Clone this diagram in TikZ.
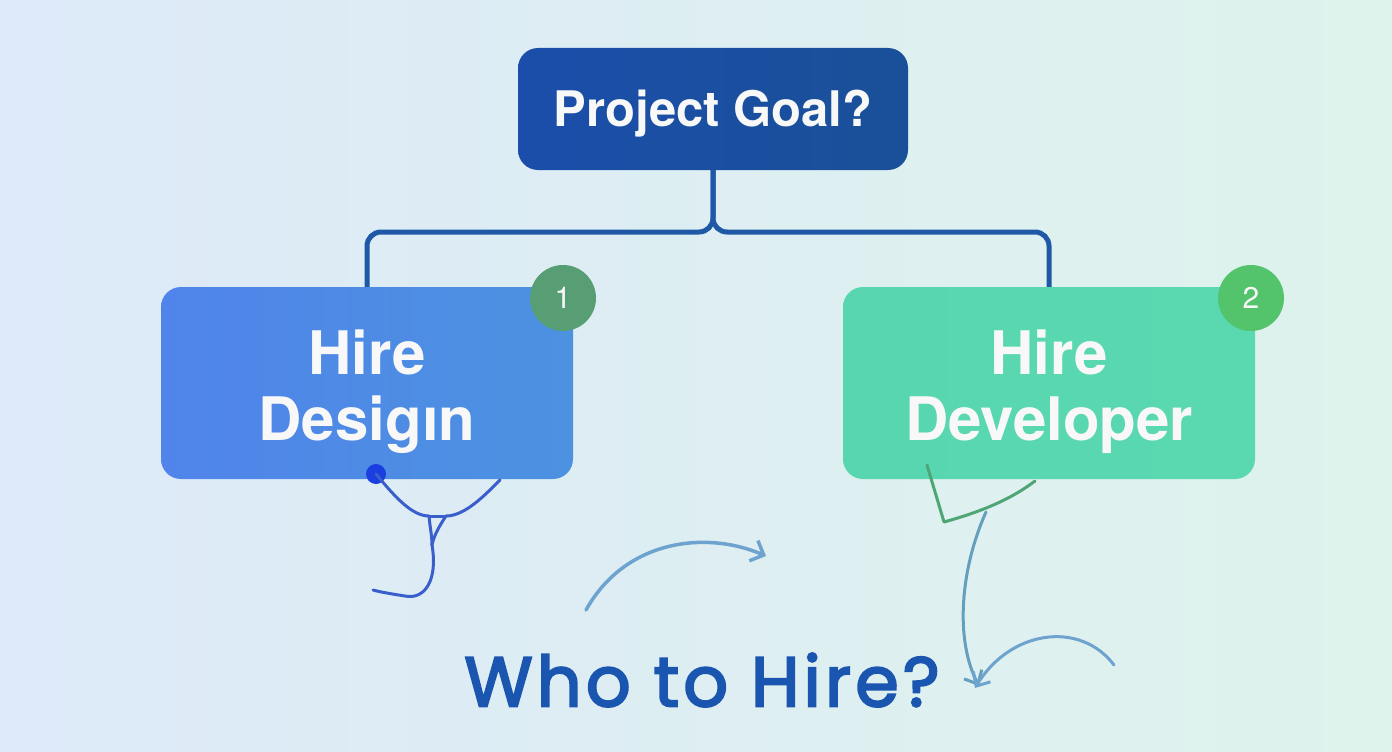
\documentclass[tikz,border=0pt]{standalone}
\usepackage{fontspec}
\setmainfont{TeX Gyre Heros}
\newfontfamily\pop[LetterSpace=6, FakeBold=3]{Poppins}
\usetikzlibrary{arrows.meta}
\definecolor{bgL}{RGB}{221,233,248}
\definecolor{bgR}{RGB}{222,243,236}
\definecolor{goalL}{RGB}{27,78,170}
\definecolor{goalR}{RGB}{26,80,152}
\definecolor{conn}{RGB}{30,88,166}
\definecolor{desL}{RGB}{80,132,234}
\definecolor{desR}{RGB}{76,146,224}
\definecolor{devL}{RGB}{88,214,176}
\definecolor{devR}{RGB}{90,216,176}
\definecolor{badgeA}{RGB}{88,158,116}
\definecolor{badgeB}{RGB}{84,196,108}
\definecolor{squig}{RGB}{58,95,204}
\definecolor{dotc}{RGB}{26,62,224}
\definecolor{greenl}{RGB}{78,166,116}
\definecolor{arrowc}{RGB}{110,163,207}
\definecolor{tealc}{RGB}{100,160,190}
\definecolor{titlec}{RGB}{26,86,176}
\definecolor{txt}{RGB}{248,248,248}
\tikzset{
  boxbase/.style={rounded corners=20pt, text=txt, align=center, inner sep=0pt},
  goalbox/.style={boxbase, left color=goalL, right color=goalR, minimum width=390pt, minimum height=122pt},
  hirebox/.style={boxbase, minimum width=412pt, minimum height=192pt},
  boxtext/.style={text=txt, align=center, font=\fontsize{60}{66}\selectfont\bfseries},
  badge/.style={circle, minimum size=66pt, inner sep=0pt, text=txt, font=\fontsize{30}{30}\selectfont},
  connline/.style={draw=conn, line width=5pt, rounded corners=14pt},
  squigline/.style={draw=squig, line width=3pt, line cap=round},
  greenline/.style={draw=greenl, line width=3pt, line cap=round},
  curvearrow/.style={draw=arrowc, line width=3.5pt, line cap=round, -{Straight Barb[length=11pt,width=22pt,line width=3.5pt]}},
  tealarrow/.style={draw=tealc, line width=3pt, line cap=round, -{Straight Barb[length=11pt,width=20pt,line width=3pt]}}
}
\begin{document}
\begin{tikzpicture}[x=1pt,y=-1pt]
\shade[left color=bgL, right color=bgR] (0,0) rectangle (1392,752);
\useasboundingbox (0,0) rectangle (1392,752);

\node[goalbox] (goal) at (713,109) {};
\node[text=txt, font=\fontsize{49}{52}\selectfont\bfseries] (goaltxt) at (713,114) {Project Goal?};
\node[hirebox, left color=desL, right color=desR] (design) at (367,383) {};
\node[hirebox, left color=devL, right color=devR] (dev) at (1049,383) {};
\node[boxtext] (designtxt) at (367,392) {Hire\\Desigın};
\node[boxtext] (devtxt) at (1049,392) {Hire\\Developer};
\node[badge, fill=badgeA] (b1) at (563,298) {1};
\node[badge, fill=badgeB] (b2) at (1251,298) {2};

\draw[connline] (goal.south) -- (713,232) -- (design.north |- 0,232) -- (design.north);
\draw[connline] (goal.south) -- (713,232) -- (dev.north |- 0,232) -- (dev.north);

% left squiggle
\node[circle, fill=dotc, minimum size=20pt, inner sep=0pt] (dot) at (376,474) {};
\coordinate (sqR) at (500,480);
\coordinate (sqJ1) at (429,516);
\coordinate (sqJ2) at (446,516);
\coordinate (sqB) at (432,545);
\coordinate (sqEnd) at (373,590);
\draw[squigline] (dot.center) .. controls (395,497) and (412,516) .. (sqJ1);
\draw[squigline] (sqR) .. controls (485,495) and (465,516) .. (sqJ2);
\draw[squigline] (sqJ1) -- (sqJ2);
\draw[squigline] (sqJ1) .. controls (430,528) and (432,535) .. (sqB);
\draw[squigline] (sqJ2) .. controls (440,525) and (434,535) .. (sqB);
\draw[squigline] (sqB) .. controls (438,580) and (425,600) .. (405,596) .. controls (392,594) and (380,592) .. (sqEnd);

% right green bracket
\coordinate (gA) at (927,465);
\coordinate (gB) at (944,522);
\coordinate (gC) at (1035,481);
\draw[greenline, line join=round] (gA) -- (gB) .. controls (980,512) and (1010,500) .. (gC);

% teal arrow down
\coordinate (tS) at (986,512);
\coordinate (tE) at (979,686);
\draw[tealarrow] (tS) .. controls (960,570) and (955,640) .. (tE);

% arc arrow right
\coordinate (aS) at (1114,665);
\coordinate (aE) at (975,688);
\draw[tealarrow, draw=arrowc] (aS) .. controls (1080,620) and (1010,630) .. (aE);

% top arrow
\coordinate (cS) at (586,610);
\coordinate (cE) at (766,556);
\draw[curvearrow] (cS) .. controls (625,540) and (705,530) .. (cE);

\node[text=titlec, font=\pop\fontsize{70}{70}\selectfont] (title) at (702,680) {Who to Hire?};
\end{tikzpicture}
\end{document}
